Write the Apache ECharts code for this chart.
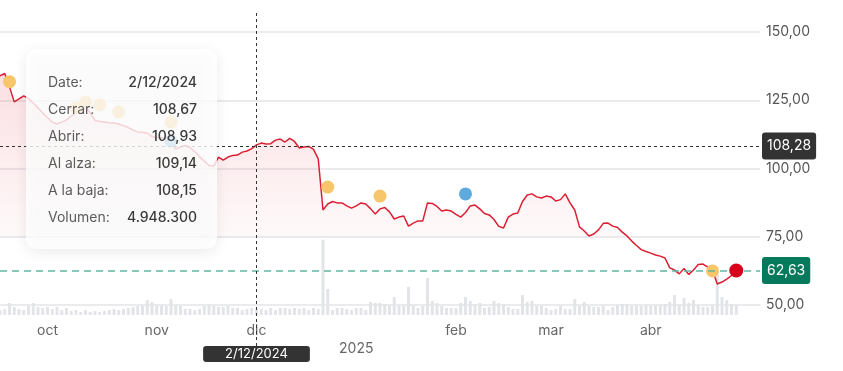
<!DOCTYPE html>
<html><head><meta charset="utf-8">
<script src="https://cdn.jsdelivr.net/npm/echarts@6/dist/echarts.min.js"></script>
<style>html,body{margin:0;padding:0;background:#fff}#c{width:843px;height:371px}</style>
</head><body><div id="c"></div>
<script>
// ---- data ----
const startDate = '2024-09-17';
const holidays = ['2024-12-25', '2025-01-01', '2025-01-20', '2025-04-18'];
const slotCount = 161; // trading-day slots on the axis (data + right padding)
const monthNames = ['ene','feb','mar','abr','may','jun','jul','ago','sep','oct','nov','dic'];

const closes = [
 133.9, 134.8, 129.9, 124.4, 125.5, 126.6, 125.6, 124.0, 122.2, 120.3,
 118.7, 117.0, 116.3, 117.0, 117.8, 119.2, 120.5, 121.2, 122.7, 120.3,
 117.6, 117.2, 117.0, 116.8, 116.7, 116.3, 115.7, 115.0, 114.1, 113.4,
 113.2, 113.0, 111.7, 111.4, 111.2, 111.2, 109.0, 107.1, 107.9, 108.4,
 107.7, 106.2, 104.4, 102.7, 101.1, 100.9, 104.2, 103.1, 104.2, 104.8,
 104.9, 106.0, 106.4, 107.3, 108.67, 109.3, 109.0, 109.1, 110.4, 110.8,
 109.7, 111.0, 109.9, 107.5, 107.9, 108.1, 107.0, 103.5, 84.8, 87.0,
 87.9, 87.4, 87.4, 86.3, 85.5, 86.3, 87.4, 87.0, 85.3, 83.3,
 85.2, 85.7, 84.1, 81.5, 82.2, 82.6, 78.9, 80.0, 80.8, 80.8,
 87.4, 87.2, 86.1, 84.4, 84.8, 84.4, 83.2, 82.2, 83.9, 86.3,
 86.6, 85.2, 83.5, 83.0, 81.3, 78.8, 78.2, 82.2, 83.3, 83.7,
 87.9, 90.3, 90.7, 89.6, 89.2, 89.9, 89.6, 88.1, 88.6, 90.7,
 87.4, 84.8, 78.6, 77.1, 75.3, 76.0, 77.5, 79.9, 80.0, 78.9,
 78.4, 76.7, 75.3, 73.4, 71.8, 70.3, 69.6, 69.0, 68.3, 67.9,
 67.2, 63.6, 62.8, 61.4, 63.4, 61.2, 62.8, 64.8, 65.0, 63.9,
 62.8, 57.7, 58.4, 59.5, 60.8, 62.63
];
// volume in millions
const volumes = [
 4.1, 4.9, 9.8, 6.6, 4.9, 4.1, 7.4, 9.8, 6.6, 5.7,
 6.6, 4.9, 6.6, 4.1, 5.7, 3.3, 4.1, 2.5, 4.1, 2.5,
 3.3, 2.5, 3.3, 4.1, 4.9, 4.1, 4.9, 5.7, 6.6, 7.4,
 8.2, 12.3, 10.7, 7.4, 8.2, 7.4, 13.1, 8.2, 7.4, 4.9,
 4.9, 4.1, 4.9, 7.4, 8.2, 7.4, 6.6, 6.6, 7.4, 5.7,
 5.7, 4.1, 4.9, 5.7, 4.95, 4.9, 4.1, 5.7, 4.1, 5.7,
 5.7, 4.9, 5.7, 4.9, 5.7, 4.1, 5.7, 4.9, 61.5, 21.3,
 4.1, 5.7, 5.7, 4.9, 4.1, 5.7, 5.7, 4.1, 10.7, 9.8,
 9.8, 9.0, 8.2, 14.8, 8.2, 7.4, 23.0, 8.2, 5.7, 7.4,
 30.3, 11.5, 9.8, 7.4, 5.7, 5.7, 5.7, 9.8, 14.8, 11.5,
 9.0, 9.8, 5.7, 6.6, 11.5, 9.8, 9.0, 6.6, 4.9, 4.9,
 16.4, 10.7, 11.5, 7.4, 7.4, 5.7, 4.1, 4.9, 8.2, 4.9,
 4.9, 13.1, 7.4, 10.7, 7.4, 6.6, 6.6, 7.4, 4.1, 6.6,
 8.2, 9.0, 9.0, 7.4, 7.4, 7.4, 8.2, 7.4, 8.2, 8.2,
 9.0, 10.7, 16.4, 8.2, 13.9, 9.8, 12.3, 8.2, 6.6, 6.6,
 7.4, 34.4, 14.8, 12.3, 9.0, 8.2
];
// event markers: [trading-day index, price]
const yellowEvents = [[2,131.8],[16,122.2],[18,124.4],[21,123.3],[25,120.7],[36,117.0],[69,93.2],[80,89.9],[150,62.5]];
const blueEvents = [[36,110.1],[98,90.7]];
const priceMin = 50, priceMax = 150, priceInterval = 25;
const volumeMax = 63;
const crossDate = '2024-12-02', crossDateLabel = '2/12/2024', crossPrice = 108.28;
const lastPrice = 62.63;
const tipLabels = ['Date:', 'Cerrar:', 'Abrir:', 'Al alza:', 'A la baja:', 'Volumen:'];
const tipValues = ['2/12/2024', '108,67', '108,93', '109,14', '108,15', '4.948.300'];

// ---- categories (trading days) ----
const dates = [];
{
  const d = new Date(startDate + 'T00:00:00Z');
  while (dates.length < slotCount) {
    const s = d.toISOString().slice(0, 10), dw = d.getUTCDay();
    if (dw !== 0 && dw !== 6 && !holidays.includes(s)) dates.push(s);
    d.setUTCDate(d.getUTCDate() + 1);
  }
}
const fmt = v => v.toFixed(2).replace('.', ',');
const FONT = 'Inter, "Noto Sans", sans-serif';
const lastIdx = closes.length - 1;

const chart = echarts.init(document.getElementById('c'), null, {renderer: 'canvas'});
const gridBase = {left: 0, right: 83};
const tipChildren = [{
  type: 'rect', z: 100, shape: {x: 0, y: 0, width: 191, height: 200, r: 10},
  style: {fill: 'rgba(255,255,255,0.8)', shadowBlur: 14, shadowColor: 'rgba(0,0,0,0.10)', shadowOffsetY: 3}
}];
tipLabels.forEach((t, k) => {
  tipChildren.push({type: 'text', z: 101, x: 22, y: 34 + 26.9 * k,
    style: {text: t, fill: '#5c5c5c', fontSize: 14, fontFamily: FONT, verticalAlign: 'middle', align: 'left'}});
  tipChildren.push({type: 'text', z: 101, x: 171, y: 34 + 26.9 * k,
    style: {text: tipValues[k], fill: '#3a3a3a', fontSize: 14, fontWeight: 500, fontFamily: FONT, verticalAlign: 'middle', align: 'right'}});
});

chart.setOption({
  animation: false,
  grid: [
    Object.assign({top: 32, height: 273}, gridBase),
    Object.assign({top: 238, bottom: 56}, gridBase),
    Object.assign({top: 10, bottom: 25}, gridBase)
  ],
  xAxis: [
    {type: 'category', gridIndex: 0, data: dates, boundaryGap: false, show: false},
    {type: 'category', gridIndex: 1, data: dates, boundaryGap: false,
     axisLine: {show: false}, axisTick: {show: false}, splitLine: {show: false},
     axisLabel: {
       margin: 7, color: '#666', fontSize: 14, fontFamily: FONT, lineHeight: 18,
       interval: (i, v) => i > 0 && i <= lastIdx && v.slice(5, 7) !== dates[i - 1].slice(5, 7),
       formatter: v => { const m = +v.slice(5, 7); return m === 1 ? '\n' + v.slice(0, 4) : monthNames[m - 1]; }
     }},
    {type: 'category', gridIndex: 2, data: dates, boundaryGap: false, show: false}
  ],
  yAxis: [
    {type: 'value', gridIndex: 0, position: 'right', min: priceMin, max: priceMax, interval: priceInterval,
     axisLine: {show: false}, axisTick: {show: false},
     splitLine: {lineStyle: {color: '#e4e4e9', width: 1.5}},
     axisLabel: {margin: 6, color: '#555', fontSize: 14, fontFamily: FONT, formatter: fmt}},
    {type: 'value', gridIndex: 1, min: 0, max: volumeMax, show: false, splitLine: {show: false}},
    {type: 'value', gridIndex: 2, min: 0, max: 1, show: false, splitLine: {show: false}}
  ],
  series: [
    {type: 'bar', xAxisIndex: 1, yAxisIndex: 1, data: volumes, barWidth: 3,
     itemStyle: {color: '#e2e4e8'}, silent: true, z: 1},
    {type: 'line', xAxisIndex: 0, yAxisIndex: 0, data: closes, showSymbol: false, silent: true, z: 3,
     lineStyle: {color: '#dc1e32', width: 1.5},
     areaStyle: {color: {type: 'linear', x: 0, y: 60, x2: 0, y2: 237, global: true, colorStops: [
       {offset: 0, color: 'rgba(226,36,56,0.22)'},
       {offset: 0.995, color: 'rgba(226,36,56,0.04)'},
       {offset: 1, color: 'rgba(226,36,56,0)'}]}},
     markLine: {symbol: 'none', silent: true, animation: false, data: [
       {yAxis: crossPrice, lineStyle: {color: '#333', type: [3, 3], width: 1},
        label: {position: 'end', distance: 2, formatter: () => fmt(crossPrice), color: '#fff',
                backgroundColor: '#333', padding: [7, 5, 6, 5], borderRadius: 3, fontSize: 14, fontFamily: FONT}},
       {yAxis: lastPrice, lineStyle: {color: '#5fb6a4', type: [7, 5], width: 1.5},
        label: {position: 'end', distance: 2, formatter: () => fmt(lastPrice), color: '#fff',
                backgroundColor: '#05795b', padding: [7, 5, 6, 5], borderRadius: 3, fontSize: 14, fontFamily: FONT}}
     ]}},
    {type: 'scatter', xAxisIndex: 0, yAxisIndex: 0, data: yellowEvents, symbolSize: 13, silent: true, z: 4,
     itemStyle: {color: '#f7c56a', opacity: 1}},
    {type: 'scatter', xAxisIndex: 0, yAxisIndex: 0, data: blueEvents, symbolSize: 13, silent: true, z: 4,
     itemStyle: {color: '#5ea9dd', opacity: 1}},
    {type: 'scatter', xAxisIndex: 0, yAxisIndex: 0, data: [[lastIdx, closes[lastIdx]]], symbolSize: 14, silent: true, z: 5,
     itemStyle: {color: '#d7001d', opacity: 1}},
    {type: 'line', xAxisIndex: 2, yAxisIndex: 2, data: [], silent: true,
     markLine: {symbol: 'none', silent: true, animation: false, data: [
       {xAxis: crossDate, lineStyle: {color: '#333', type: [3, 3], width: 1},
        label: {position: 'start', distance: 0, formatter: () => crossDateLabel, color: '#fff',
                backgroundColor: '#333', padding: [2, 22, 1, 22], borderRadius: 3, fontSize: 13, fontFamily: FONT}}
     ]}}
  ],
  graphic: [{type: 'group', x: 26, y: 49, z: 100, zlevel: 1, children: tipChildren}]
});
</script></body></html>
